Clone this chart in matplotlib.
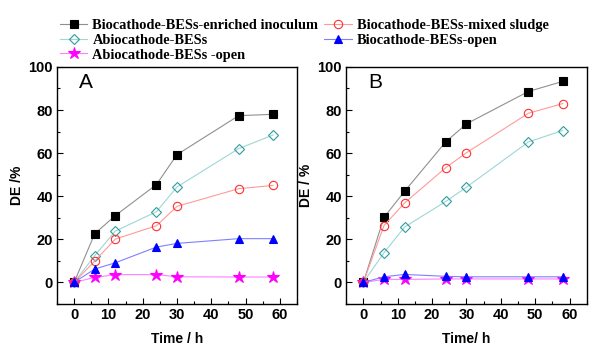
import matplotlib
matplotlib.use("Agg")
import matplotlib.pyplot as plt
from matplotlib.ticker import MultipleLocator

plt.rcParams.update({
    "font.family": "Liberation Sans",
    "xtick.direction": "in", "ytick.direction": "in",
    "axes.linewidth": 1.0,
})

time_h = [0, 6, 12, 24, 30, 48, 58]

# panel A
a_enriched = [0, 22.6, 31.0, 45.4, 59.3, 77.4, 78.0]
a_abio = [0, 12.4, 23.8, 32.8, 44.3, 62.1, 68.4]
a_mixed = [0, 9.9, 20.1, 26.3, 35.3, 43.5, 45.0]
a_bio_open = [0, 6.2, 9.1, 16.4, 18.1, 20.3, 20.3]
a_abio_open = [0, 2.3, 3.6, 3.6, 2.6, 2.5, 2.5]

# panel B
b_enriched = [0, 30.2, 42.3, 65.3, 73.6, 88.6, 93.3]
b_abio = [0, 13.8, 25.7, 37.6, 44.2, 65.2, 70.5]
b_mixed = [0, 26.4, 36.9, 53.3, 60.2, 78.5, 83.0]
b_bio_open = [0, 2.6, 3.7, 2.8, 2.6, 2.6, 2.6]
b_abio_open = [0, 1.4, 1.4, 1.6, 1.6, 1.6, 1.6]

labels = ["Biocathode-BESs-enriched inoculum", "Abiocathode-BESs",
          "Abiocathode-BESs -open", "Biocathode-BESs-mixed sludge",
          "Biocathode-BESs-open"]

# (marker, marker face, marker edge, line colour)
styles = [
    ("s", "black", "black", "#909090"),
    ("D", "none", "#2f9c9c", "#9fd6d6"),
    ("*", "#ff00ff", "#ff00ff", "#ff80ff"),
    ("o", "none", "#ff3030", "#ff9a9a"),
    ("^", "#0000ff", "#0000ff", "#8080ff"),
]

fig = plt.figure(figsize=(6.0, 3.58), dpi=100)
axA = fig.add_axes([0.095, 0.151, 0.400, 0.662])
axB = fig.add_axes([0.577, 0.151, 0.401, 0.662])

panels = [
    (axA, [a_enriched, a_abio, a_abio_open, a_mixed, a_bio_open], "A", "DE /%", "Time / h"),
    (axB, [b_enriched, b_abio, b_abio_open, b_mixed, b_bio_open], "B", "DE / %", "Time/ h"),
]

handles = []
for ax, series, tag, ylab, xlab in panels:
    hs = []
    for vals, (mk, fc, ec, lc) in zip(series, styles):
        ms = 9 if mk == "*" else (5.5 if mk == "D" else 6)
        h, = ax.plot(time_h, vals, color=lc, lw=0.8, marker=mk, ms=ms,
                     mfc=fc, mec=ec, mew=0.8)
        hs.append(h)
    handles = hs
    ax.set_xlim(-5, 65)
    ax.set_ylim(-10, 100)
    ax.xaxis.set_major_locator(MultipleLocator(10))
    ax.xaxis.set_minor_locator(MultipleLocator(5))
    ax.yaxis.set_major_locator(MultipleLocator(20))
    ax.yaxis.set_minor_locator(MultipleLocator(10))
    ax.tick_params(which="major", length=4, width=0.8, labelsize=10.5, pad=3)
    ax.tick_params(which="minor", length=2, width=0.8)
    for t in ax.get_xticklabels() + ax.get_yticklabels():
        t.set_fontweight("bold")
    ax.set_xlabel(xlab, fontsize=10, fontweight="bold", labelpad=7)
    ax.set_ylabel(ylab, fontsize=10, fontweight="bold", labelpad=3)
    ax.text(0.09, 0.975, tag, transform=ax.transAxes, fontsize=15,
            va="top", ha="left")

fig.legend(handles, labels, loc="upper left", bbox_to_anchor=(0.100, 0.946),
           ncol=2, frameon=False, handlelength=1.9, handletextpad=0.35,
           columnspacing=0.4, labelspacing=0.1, borderaxespad=0, borderpad=0,
           prop={"family": "Liberation Serif", "weight": "bold", "size": 10.4})

fig.savefig("out.png", dpi=100)
